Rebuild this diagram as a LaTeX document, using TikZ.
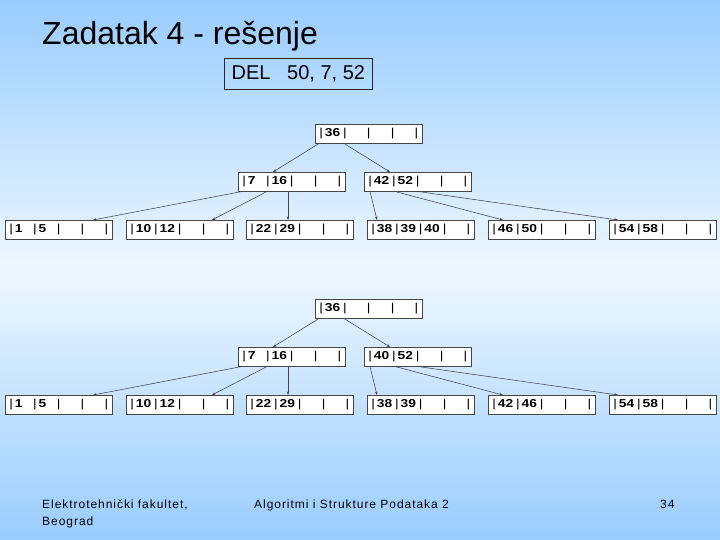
\documentclass[tikz,border=0pt]{standalone}
\usepackage{fontspec}
\setmainfont{Liberation Sans}
\newfontfamily\footfont[LetterSpace=8]{Liberation Sans}
\newfontfamily\keyfont[FakeStretch=1.2]{Liberation Sans}
\usetikzlibrary{arrows.meta,calc}

\definecolor{slideblue}{RGB}{153,204,255}
\definecolor{slidelight}{RGB}{238,247,255}
\definecolor{edgegray}{RGB}{70,70,70}

% one B-tree page: four key slots between bars
\newcommand{\bkeys}[4]{%
  \makebox[23.8pt][l]{|\,\textbf{#1}}%
  \makebox[23.8pt][l]{|\,\textbf{#2}}%
  \makebox[23.8pt][l]{|\,\textbf{#3}}%
  \makebox[23.8pt][l]{|\,\textbf{#4}}|}

\begin{document}
\begin{tikzpicture}[x=1pt,y=-1pt,
  bnode/.style={draw=edgegray,fill=white,line width=.5pt,inner sep=0pt,
    minimum width=107pt,minimum height=19pt,anchor=north west,
    font=\keyfont\fontsize{11.5}{12}\selectfont},
  ptr/.style={edgegray,line width=.55pt,-{Stealth[length=3.5pt,width=2.6pt]}}]
  \useasboundingbox (0,0) rectangle (720,540);
  \shade[top color=slideblue,bottom color=slidelight] (0,0) rectangle (720,270);
  \shade[top color=slidelight,bottom color=slideblue] (0,270) rectangle (720,540);

  \node[anchor=base west,inner sep=0pt,font=\fontsize{32}{38}\selectfont] (title)
    at (42,45) {Zadatak 4 - rešenje};
  \node[draw=black!85,line width=.6pt,minimum width=148pt,minimum height=31pt,
    anchor=north west,inner sep=0pt,font=\fontsize{20}{24}\selectfont] (del)
    at (224,58) {DEL\ \ \ 50, 7, 52};

  % before deleting
  \node[bnode] (t1root) at (315,124) {\bkeys{36}{}{}{}};
  \node[bnode] (t1a) at (238,172) {\bkeys{7}{16}{}{}};
  \node[bnode] (t1b) at (364,172) {\bkeys{42}{52}{}{}};
  \node[bnode] (t1l1) at (5,220) {\bkeys{1}{5}{}{}};
  \node[bnode] (t1l2) at (126,220) {\bkeys{10}{12}{}{}};
  \node[bnode] (t1l3) at (246,220) {\bkeys{22}{29}{}{}};
  \node[bnode] (t1l4) at (367,220) {\bkeys{38}{39}{40}{}};
  \node[bnode] (t1l5) at (488,220) {\bkeys{46}{50}{}{}};
  \node[bnode] (t1l6) at (609,220) {\bkeys{54}{58}{}{}};

  % after deleting
  \node[bnode] (t2root) at (315,299) {\bkeys{36}{}{}{}};
  \node[bnode] (t2a) at (238,347) {\bkeys{7}{16}{}{}};
  \node[bnode] (t2b) at (364,347) {\bkeys{40}{52}{}{}};
  \node[bnode] (t2l1) at (5,395) {\bkeys{1}{5}{}{}};
  \node[bnode] (t2l2) at (126,395) {\bkeys{10}{12}{}{}};
  \node[bnode] (t2l3) at (246,395) {\bkeys{22}{29}{}{}};
  \node[bnode] (t2l4) at (367,395) {\bkeys{38}{39}{}{}};
  \node[bnode] (t2l5) at (488,395) {\bkeys{42}{46}{}{}};
  \node[bnode] (t2l6) at (609,395) {\bkeys{54}{58}{}{}};

  \foreach \t in {t1,t2}
    \foreach \p/\px/\c/\cx in {root/4/a/35,root/29/b/26,a/4/l1/88,a/29/l2/86,
        a/50/l3/42,b/6/l4/10,b/31/l5/15,b/54/l6/9}
      \draw[ptr] ($(\t\p.south west)+(\px,0)$) -- ($(\t\c.north west)+(\cx,0)$);

  \node[anchor=north west,inner sep=0pt,align=left,
    font=\footfont\fontsize{12}{17}\selectfont] (school) at (42,500)
    {Elektrotehnički fakultet,\\Beograd};
  \node[anchor=north west,inner sep=0pt,font=\footfont\fontsize{12}{17}\selectfont]
    (course) at (254,500) {Algoritmi i Strukture Podataka 2};
  \node[anchor=north west,inner sep=0pt,font=\footfont\fontsize{12}{17}\selectfont]
    (page) at (660,500) {34};
\end{tikzpicture}
\end{document}
